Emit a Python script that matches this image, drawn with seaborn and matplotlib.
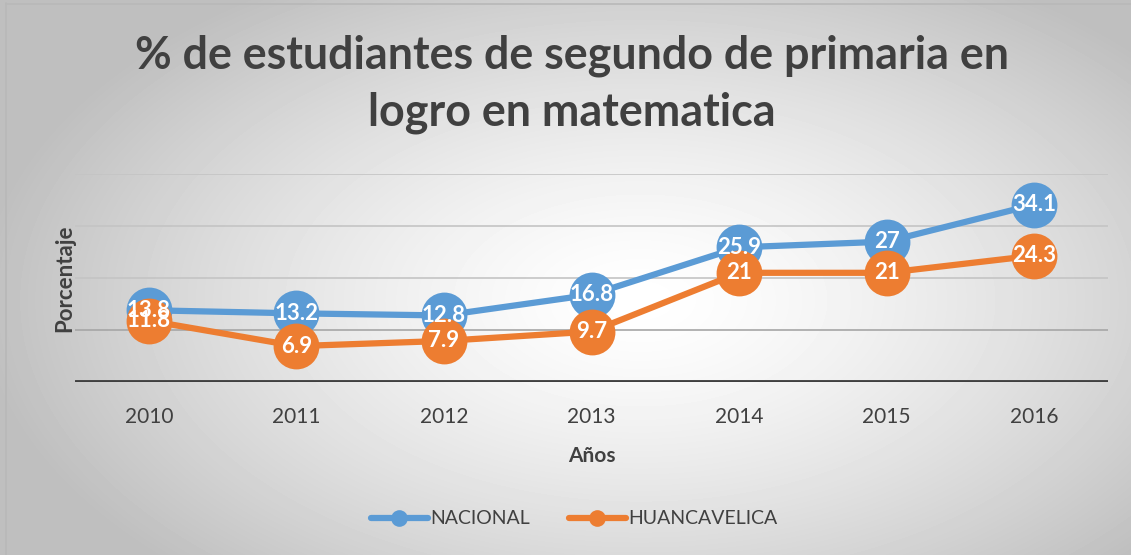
import numpy as np
import pandas as pd
import matplotlib
matplotlib.use("Agg")
import matplotlib.pyplot as plt
import seaborn as sns
from matplotlib.lines import Line2D

years = ["2010", "2011", "2012", "2013", "2014", "2015", "2016"]
nacional = [13.8, 13.2, 12.8, 16.8, 25.9, 27, 34.1]
huancavelica = [11.8, 6.9, 7.9, 9.7, 21, 21, 24.3]
series_names = ["NACIONAL", "HUANCAVELICA"]
colors = ["#5B9BD5", "#ED7D31"]

sns.set_theme(style="white")
plt.rcParams["font.family"] = ["Lato", "DejaVu Sans"]

df = pd.DataFrame({
    "Año": years * 2,
    "valor": nacional + huancavelica,
    "serie": [series_names[0]] * len(years) + [series_names[1]] * len(years),
})

W, H = 1131, 555
fig = plt.figure(figsize=(W / 100, H / 100), dpi=100)

# radial gradient background
bg = fig.add_axes([0, 0, 1, 1], zorder=0)
yy, xx = np.mgrid[0:H, 0:W]
cx, cy = 640, 300
r = np.sqrt(((xx - cx) / 600.0) ** 2 + ((yy - cy) / 340.0) ** 2)
r = np.clip(r, 0, 1.1)
val = 1.0 - 0.22 * r ** 1.4
bg.imshow(val, cmap="gray", vmin=0, vmax=1, extent=[0, W, H, 0], aspect="auto", interpolation="bilinear")
bg.plot([6, 6], [3, H], color="#b8b8b8", lw=1.2)
bg.plot([6, W], [3.5, 3.5], color="#b8b8b8", lw=1.2)
bg.set_xlim(0, W)
bg.set_ylim(H, 0)
bg.axis("off")

ax = fig.add_axes([75 / W, 1 - 382 / H, (1108 - 75) / W, (382 - 174) / H], zorder=1)
ax.patch.set_alpha(0)

for v in [10, 20, 30, 40]:
    ax.axhline(v, color="#c4c4c4" if v > 10 else "#a6a6a6", lw=1.2, zorder=0)
ax.axhline(0, color="#404040", lw=3.5, zorder=1)

sns.lineplot(data=df, x="Año", y="valor", hue="serie", palette=colors,
             marker="o", markersize=33, markeredgewidth=0, linewidth=4.5,
             ax=ax, legend=False, sort=False)

for vals in [nacional, huancavelica]:
    for i, v in enumerate(vals):
        ax.text(i, v, f"{v:g}", color="white", fontsize=16, fontweight="bold",
                ha="center", va="center", zorder=10)

ax.set_xlim(-0.5, 6.5)
ax.set_ylim(0, 40)
ax.set_yticks([])
for s in ax.spines.values():
    s.set_visible(False)
ax.tick_params(axis="x", length=0, labelsize=15, labelcolor="#404040", pad=18)
ax.set_xlabel("Años", fontsize=15, fontweight="bold", color="#404040", labelpad=14)
ax.set_ylabel("Porcentaje", fontsize=16, fontweight="bold", color="#404040", labelpad=0)

fig.text(0.506, 0.848, "% de estudiantes de segundo de primaria en\nlogro en matematica",
         ha="center", va="center", fontsize=32.3, fontweight="bold", color="#404040",
         linespacing=1.42)

handles = [Line2D([0], [0], color=c, lw=4.5, marker="o", markersize=12, markeredgewidth=0)
           for c in colors]
fig.legend(handles, series_names, loc="center", bbox_to_anchor=(0.508, 0.065), ncol=2,
           frameon=False, fontsize=14, handlelength=2.9, columnspacing=2.0,
           handletextpad=0.15, labelcolor="#404040")

fig.savefig("out.png", dpi=100)
